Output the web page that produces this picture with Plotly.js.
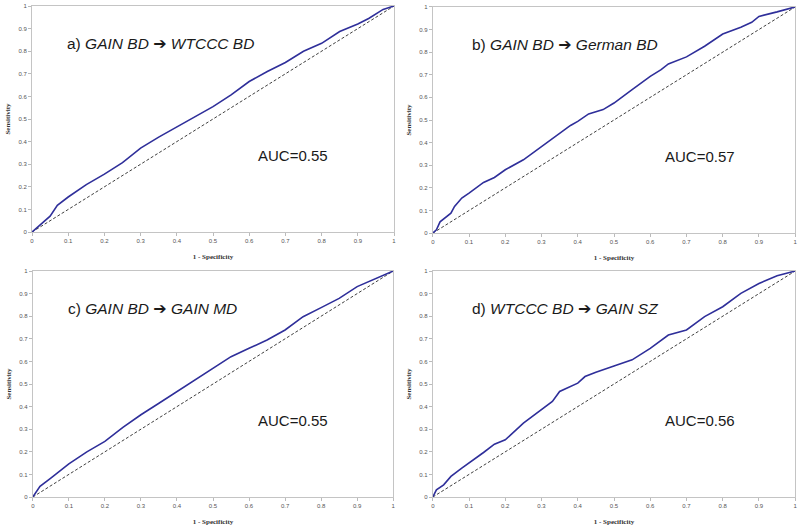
<!DOCTYPE html>
<html>
<head>
<meta charset="utf-8">
<script src="https://cdn.plot.ly/plotly-3.0.1.min.js"></script>
<style>html,body{margin:0;padding:0;background:#fff;}#chart{width:800px;height:531px;}</style>
</head>
<body>
<div id="chart"></div>
<script>
// ---- data ----
const panelLabels = ["a)", "b)", "c)", "d)"];
const panelSources = ["GAIN BD", "GAIN BD", "GAIN BD", "WTCCC BD"];
const panelTargets = ["WTCCC BD", "German BD", "GAIN MD", "GAIN SZ"];
const aucValues = ["0.55", "0.57", "0.55", "0.56"];

const fprA = [0, 0.05, 0.07, 0.1, 0.15, 0.2, 0.25, 0.28, 0.3, 0.35, 0.4, 0.45, 0.5, 0.55, 0.6, 0.65, 0.7, 0.75, 0.8, 0.85, 0.9, 0.93, 0.97, 1];
const tprA = [0, 0.07, 0.118, 0.155, 0.21, 0.256, 0.307, 0.345, 0.371, 0.42, 0.464, 0.51, 0.555, 0.607, 0.666, 0.71, 0.75, 0.80, 0.835, 0.887, 0.92, 0.945, 0.985, 1];

const fprB = [0, 0.01, 0.02, 0.04, 0.05, 0.06, 0.08, 0.1, 0.12, 0.14, 0.17, 0.2, 0.25, 0.3, 0.35, 0.38, 0.4, 0.43, 0.47, 0.5, 0.55, 0.6, 0.63, 0.65, 0.7, 0.75, 0.8, 0.85, 0.88, 0.9, 0.95, 0.98, 1];
const tprB = [0, 0.015, 0.05, 0.074, 0.088, 0.118, 0.155, 0.177, 0.2, 0.224, 0.246, 0.28, 0.324, 0.383, 0.442, 0.476, 0.494, 0.527, 0.546, 0.575, 0.634, 0.693, 0.723, 0.748, 0.779, 0.826, 0.88, 0.91, 0.932, 0.958, 0.978, 0.99, 1];

const fprC = [0, 0.02, 0.05, 0.1, 0.15, 0.2, 0.25, 0.3, 0.35, 0.4, 0.45, 0.5, 0.55, 0.6, 0.65, 0.7, 0.75, 0.8, 0.85, 0.9, 0.95, 1];
const tprC = [0, 0.047, 0.084, 0.147, 0.2, 0.246, 0.308, 0.364, 0.415, 0.467, 0.518, 0.57, 0.621, 0.658, 0.695, 0.739, 0.798, 0.838, 0.879, 0.931, 0.965, 1];

const fprD = [0, 0.01, 0.03, 0.05, 0.08, 0.1, 0.14, 0.17, 0.2, 0.25, 0.3, 0.33, 0.35, 0.4, 0.42, 0.45, 0.5, 0.55, 0.6, 0.65, 0.7, 0.75, 0.8, 0.85, 0.9, 0.95, 1];
const tprD = [0, 0.032, 0.054, 0.091, 0.128, 0.15, 0.197, 0.234, 0.253, 0.327, 0.386, 0.423, 0.467, 0.504, 0.533, 0.552, 0.58, 0.607, 0.658, 0.717, 0.739, 0.798, 0.842, 0.901, 0.945, 0.979, 1];

const diagX = [0, 1];
const diagY = [0, 1];

const tickVals = [0, 0.1, 0.2, 0.3, 0.4, 0.5, 0.6, 0.7, 0.8, 0.9, 1];
const tickText = ["0", "0.1", "0.2", "0.3", "0.4", "0.5", "0.6", "0.7", "0.8", "0.9", "1"];
const xTitle = "1 - Specificity";
const yTitle = "Sensitivity";

// ---- layout ----
const curves = [[fprA, tprA], [fprB, tprB], [fprC, tprC], [fprD, tprD]];
const xDomains = [[0.040, 0.4925], [0.541, 0.994], [0.041, 0.4915], [0.541, 0.994]];
const yDomains = [[0.563, 0.9887], [0.561, 0.987], [0.064, 0.4896], [0.064, 0.4896]];

const traces = [];
const layout = {
  width: 800, height: 531,
  margin: {l: 0, r: 0, t: 0, b: 0},
  paper_bgcolor: "#fff", plot_bgcolor: "#fff",
  showlegend: false,
  annotations: []
};

function axisStyle(domain, anchor, title, standoff) {
  return {
    domain: domain, anchor: anchor, range: [0, 1],
    tickvals: tickVals, ticktext: tickText,
    ticks: "outside", ticklen: 3, tickcolor: "#bbbbbb", tickwidth: 1,
    showline: true, linecolor: "#c4c4c4", linewidth: 1, mirror: true,
    showgrid: false, zeroline: false, fixedrange: true,
    tickfont: {family: "Liberation Sans, Arial, sans-serif", size: 6, color: "#555"},
    title: {text: title, font: {family: "Liberation Serif, Times New Roman, serif", size: 7, color: "#333", weight: "bold"}, standoff: standoff},
    automargin: false
  };
}

const arrow = "<span style='font-family:DejaVu Sans;font-size:16px'>\u2794</span>";

for (let i = 0; i < 4; i++) {
  const n = i === 0 ? "" : String(i + 1);
  const xa = "x" + n, ya = "y" + n;
  layout["xaxis" + n] = axisStyle(xDomains[i], ya, xTitle, 10);
  layout["yaxis" + n] = axisStyle(yDomains[i], xa, yTitle, 6);
  traces.push({x: diagX, y: diagY, xaxis: xa, yaxis: ya, mode: "lines",
    line: {color: "#404040", width: 1, dash: "3px,2px"}, hoverinfo: "skip"});
  traces.push({x: curves[i][0], y: curves[i][1], xaxis: xa, yaxis: ya, mode: "lines",
    line: {color: "#2f2f9a", width: 1.6}, hoverinfo: "skip"});
  const xr = (i % 2 === 0) ? 0.091 : 0.104;
  layout.annotations.push({
    xref: xa, yref: ya, x: xr, y: 0.836, xanchor: "left", yanchor: "middle", showarrow: false,
    text: panelLabels[i] + " <i>" + panelSources[i] + "</i> " + arrow + " <i>" + panelTargets[i] + "</i>",
    font: {family: "Liberation Sans, Arial, sans-serif", size: 15.5, color: "#1a1a1a"}
  });
  const xa2 = (i % 2 === 0) ? 0.62 : 0.635;
  layout.annotations.push({
    xref: xa, yref: ya, x: xa2, y: 0.34, xanchor: "left", yanchor: "middle", showarrow: false,
    text: "AUC=" + aucValues[i],
    font: {family: "Liberation Sans, Arial, sans-serif", size: 15, color: "#1a1a1a"}
  });
}

Plotly.newPlot("chart", traces, layout, {staticPlot: true, displayModeBar: false});
</script>
</body>
</html>
